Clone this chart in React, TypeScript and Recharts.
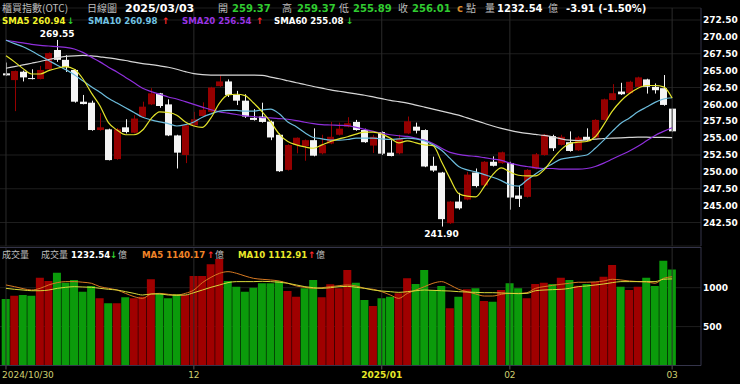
import React from "react"
import {
    ComposedChart,
    Bar,
    Line,
    XAxis,
    YAxis,
    CartesianGrid,
    ReferenceLine,
    ReferenceDot,
    Cell
} from "recharts"

// daily OHLC, 2024/10/30 .. 2025/03/03
const opens = [
    264.6, 263.6, 264.84, 263.9, 263.76, 265.2, 268.06, 266.6, 265.1, 260.4,
    260.25, 256.2, 256.3, 251.9, 256.6, 255.8, 258.17, 260.0, 261.64, 260.0,
    255.4, 252.5, 256.9, 258.28, 258.9, 262.7, 263.4, 261.4, 260.55, 258.0,
    258.2, 257.45, 255.5, 250.3, 253.99, 253.8, 254.7, 252.75, 254.2, 255.5,
    256.7, 257.4, 256.2, 253.9, 255.9, 252.85, 252.75, 255.7, 256.7, 256.2,
    250.9, 249.9, 242.4, 245.6, 245.9, 249.9, 248.0, 251.5, 251.3, 251.3,
    246.5, 246.3, 250.5, 252.5, 255.3, 254.0, 254.4, 253.2, 255.2, 255.1,
    257.7, 260.65, 261.9, 261.65, 262.6, 263.7, 262.6, 262.4, 259.37
]
const highs = [
    266.2, 265.0, 265.0, 265.2, 265.7, 267.7, 269.55, 267.3, 265.2, 261.4,
    260.55, 258.7, 256.4, 256.5, 257.8, 258.4, 260.4, 262.4, 261.7, 260.75,
    255.5, 257.0, 258.9, 260.3, 262.6, 264.25, 263.7, 262.0, 261.5, 259.3,
    260.25, 257.6, 255.7, 254.1, 255.1, 254.8, 256.45, 255.5, 257.4, 257.3,
    258.1, 257.7, 256.4, 255.5, 256.0, 254.7, 255.5, 258.2, 257.3, 256.3,
    252.25, 250.0, 245.7, 246.9, 250.0, 250.5, 251.6, 252.3, 253.0, 251.5,
    247.9, 250.4, 252.8, 255.6, 255.5, 255.5, 256.0, 255.3, 256.45, 257.8,
    260.85, 263.0, 263.2, 263.5, 264.1, 263.8, 263.1, 264.35, 259.37
]
const lows = [
    264.2, 259.0, 263.4, 263.7, 263.7, 265.1, 266.3, 264.8, 260.25, 260.0,
    256.1, 256.1, 251.7, 251.8, 255.7, 255.7, 258.0, 259.9, 259.5, 255.3,
    250.5, 251.3, 256.8, 258.2, 258.8, 262.6, 261.1, 259.9, 258.0, 257.6,
    257.3, 254.7, 250.0, 250.2, 252.75, 251.65, 252.3, 252.6, 254.1, 255.4,
    256.6, 256.1, 254.3, 252.8, 252.5, 252.3, 252.6, 255.6, 255.7, 250.7,
    250.0, 241.9, 242.3, 244.4, 245.8, 247.7, 247.8, 250.8, 251.2, 244.4,
    244.8, 246.2, 250.4, 252.4, 253.1, 253.9, 253.0, 253.1, 254.6, 255.0,
    257.6, 260.6, 261.4, 261.6, 262.5, 261.6, 261.6, 259.8, 255.89
]
const closes = [
    264.3, 264.94, 264.0, 263.8, 265.1, 267.6, 266.6, 265.5, 260.4, 260.05,
    256.2, 256.6, 251.75, 256.3, 255.9, 257.9, 259.66, 261.64, 259.76, 255.4,
    252.85, 256.9, 257.8, 259.2, 262.5, 263.4, 261.4, 260.55, 258.2, 257.7,
    257.4, 255.1, 250.1, 253.98, 255.06, 254.7, 252.4, 254.0, 255.2, 256.4,
    257.2, 256.2, 254.4, 255.2, 252.7, 252.35, 254.9, 257.5, 256.1, 250.8,
    250.2, 243.0, 245.6, 244.6, 249.6, 247.9, 251.5, 250.9, 252.9, 246.2,
    246.0, 250.3, 252.6, 255.5, 253.5, 255.2, 253.1, 255.1, 254.7, 257.7,
    260.75, 261.65, 261.5, 263.35, 264.0, 262.6, 262.1, 259.92, 256.01
]

// moving averages
const sma5 = [
    267.2, 266.3, 265.3, 264.5, 264.5, 265.0, 265.35, 265.6, 265.2, 263.8,
    261.7, 259.8, 257.3, 256.2, 255.5, 255.5, 256.2, 257.9, 258.9, 258.8,
    258.4, 257.4, 256.8, 256.6, 258.0, 260.2, 261.4, 261.5, 261.3, 260.2,
    258.9, 257.4, 255.6, 254.5, 254.0, 253.7, 253.5, 254.0, 254.5, 254.9,
    255.2, 255.6, 255.9, 255.9, 255.6, 255.0, 254.3, 254.6, 254.3, 254.0,
    253.9, 251.5, 249.0, 246.8, 246.4, 246.3, 247.8, 249.6, 250.6, 250.0,
    249.5, 249.4, 249.4, 250.3, 251.9, 253.3, 254.2, 254.4, 254.5, 255.2,
    257.0, 259.0, 260.5, 261.6, 262.4, 262.8, 262.8, 262.6, 260.94
]
const sma10 = [
    269.5, 269.0, 268.55, 267.9, 267.2, 266.5, 265.8, 265.15, 264.4, 263.5,
    262.6, 261.8, 260.9, 260.2, 259.5, 258.8, 258.1, 257.7, 257.4, 257.15,
    256.8, 257.0, 257.4, 258.1, 258.6, 259.0, 259.1, 259.1, 259.0, 259.0,
    259.2, 259.3, 258.6, 257.4, 256.7, 255.8, 255.1, 254.9, 254.7, 254.7,
    254.8, 255.0, 255.0, 255.0, 254.9, 254.8, 254.9, 255.0, 254.9, 254.6,
    254.0, 253.2, 252.0, 250.8, 250.3, 250.0, 249.6, 249.2, 248.7, 248.1,
    247.9, 248.8, 249.7, 250.5, 251.2, 251.9, 252.1, 252.3, 252.5, 253.5,
    254.7, 256.0, 257.2, 258.0, 258.9, 259.6, 260.3, 260.8, 260.98
]
const sma20 = [
    269.5, 269.3, 269.1, 268.9, 268.75, 268.65, 268.55, 268.45, 268.2, 267.7,
    267.0, 266.3, 265.5, 264.8, 264.0, 263.2, 262.4, 261.9, 261.5, 261.1,
    260.8, 260.4, 260.0, 259.6, 259.2, 258.9, 258.7, 258.5, 258.3, 258.2,
    258.05, 258.0, 257.9, 257.8, 257.6, 257.35, 257.15, 257.0, 256.95, 256.9,
    256.85, 256.6, 256.3, 256.0, 255.7, 255.5, 255.35, 255.25, 255.0, 254.7,
    254.2, 253.5, 252.9, 252.6, 252.4, 252.3, 252.1, 251.9, 251.7, 251.3,
    251.0, 250.8, 250.6, 250.5, 250.5, 250.4, 250.4, 250.4, 250.5, 250.8,
    251.3, 251.9, 252.5, 253.1, 253.8, 254.6, 255.4, 256.0, 256.54
]
const sma60 = [
    265.35, 265.6, 265.85, 266.1, 266.35, 266.65, 266.9, 267.1, 267.2, 267.25,
    267.2, 267.05, 266.9, 266.7, 266.5, 266.25, 266.05, 265.9, 265.7, 265.5,
    265.2, 264.85, 264.55, 264.4, 264.35, 264.35, 264.35, 264.35, 264.35, 264.35,
    264.3, 264.05, 263.8, 263.5, 263.2, 262.95, 262.65, 262.4, 262.15, 261.95,
    261.75, 261.55, 261.35, 261.1, 260.85, 260.6, 260.4, 260.2, 259.9, 259.6,
    259.3, 259.0, 258.7, 258.4, 258.0, 257.6, 257.2, 256.8, 256.45, 256.15,
    255.9, 255.7, 255.55, 255.4, 255.2, 254.9, 254.7, 254.65, 254.75, 254.85,
    254.95, 255.0, 255.05, 255.1, 255.15, 255.15, 255.1, 255.1, 255.08
]

// volume (億)
const volumes = [
    855, 897, 906, 897, 1129, 1086, 1193, 1064, 1099, 949,
    1022, 864, 799, 799, 877, 864, 884, 1108, 928, 864,
    919, 906, 1150, 1150, 1301, 1369, 1086, 1013, 949, 1000,
    1057, 1057, 1086, 958, 884, 992, 1099, 877, 1044, 992,
    1228, 1064, 842, 765, 864, 884, 928, 1121, 1047, 1228,
    970, 1022, 735, 884, 979, 992, 829, 820, 970, 1057,
    992, 864, 1047, 1064, 1047, 1129, 1099, 1026, 1047, 1073,
    1141, 1292, 1013, 970, 1013, 1129, 1022, 1347, 1233
]
const volMa5 = [
    1035, 1013, 988, 970, 992, 1035, 1065, 1078, 1078, 1070,
    1057, 1013, 992, 970, 927, 885, 863, 919, 927, 915,
    906, 927, 970, 1065, 1133, 1185, 1206, 1185, 1150, 1120,
    1108, 1099, 1086, 1057, 1022, 1005, 992, 1000, 1013, 1026,
    1035, 1022, 992, 979, 949, 906, 863, 927, 970, 1013,
    1057, 1078, 1035, 979, 949, 919, 893, 893, 915, 927,
    927, 936, 992, 1013, 1030, 1044, 1057, 1070, 1070, 1074,
    1086, 1108, 1099, 1086, 1078, 1074, 1057, 1120, 1140
]
const volMa10 = [
    992, 979, 970, 961, 961, 970, 992, 1005, 1013, 1009,
    1005, 992, 979, 970, 949, 927, 906, 919, 919, 906,
    902, 906, 936, 970, 1005, 1035, 1065, 1078, 1078, 1078,
    1082, 1078, 1070, 1057, 1035, 1013, 1000, 992, 1000, 1013,
    1017, 1005, 992, 970, 957, 949, 940, 949, 961, 970,
    966, 961, 957, 949, 944, 940, 936, 936, 932, 927,
    923, 927, 961, 970, 975, 979, 992, 1013, 1022, 1035,
    1048, 1065, 1078, 1078, 1078, 1078, 1078, 1108, 1113
]

const priceTicks = [242.5, 245, 247.5, 250, 252.5, 255, 257.5, 260, 262.5, 265, 267.5, 270, 272.5]
const volTicks = [500, 1000]
const dateTickIdx = [0, 22, 44, 59, 78]
const dateTickLabels = ["2024/10/30", "12", "2025/01", "02", "03"]

const F = '"DejaVu Sans", "Noto Sans CJK TC", sans-serif'
const CJK = '"Noto Sans CJK TC", sans-serif'
const RED = "#960000"
const WHITE = "#f4f4f4"
const VRED = "#a00000"
const VGREEN = "#0b9b0b"
const GRID = "#1e1e1e"
const VGRID = "#2b2b2b"
const BORDER = "#34344a"
const GREEN_T = "#30cc30"
const RED_T = "#ff2a2a"
const GRAY_T = "#bdbdbd"
const LEG = 8.6

const data = closes.map((c, i) => ({
    i,
    o: opens[i],
    h: highs[i],
    l: lows[i],
    c,
    range: [lows[i], highs[i]],
    sma5: sma5[i],
    sma10: sma10[i],
    sma20: sma20[i],
    sma60: sma60[i],
    v: volumes[i],
    vma5: volMa5[i],
    vma10: volMa10[i],
    up: i === 0 ? c >= opens[i] : c >= closes[i - 1]
}))

function Candle(props: any) {
    const { x, y, width, height, payload } = props
    const { o, h, l, c } = payload
    const top0 = Math.min(y, y + height)
    const H = Math.abs(height)
    const k = H / (h - l)
    const color = c > o ? RED : WHITE
    const bTop = top0 + (h - Math.max(o, c)) * k
    const bBot = top0 + (h - Math.min(o, c)) * k
    const cx = Math.round(x + width / 2) + 0.5
    return (
        <g>
            <line x1={cx} x2={cx} y1={top0} y2={top0 + H} stroke={color} strokeWidth={1} />
            <rect x={Math.round(x)} y={bTop} width={Math.round(width)} height={Math.max(1, bBot - bTop)} fill={color} />
        </g>
    )
}

function DateTick(props: any) {
    const { x, y, payload } = props
    const idx = dateTickIdx.indexOf(payload.value)
    const label = dateTickLabels[idx]
    const first = idx === 0
    const year = label === "2025/01"
    return (
        <text
            x={first ? x - 4 : x}
            y={y}
            dy="0.72em"
            textAnchor={first ? "start" : "middle"}
            fill={year ? "#e8e828" : "#cfcf70"}
            fontSize={9}
            fontWeight={year ? "bold" : "normal"}
            fontFamily={F}
        >
            {label}
        </text>
    )
}

function T({ x, y, fill, size = LEG, bold = false, cjk = false, children }: any) {
    return (
        <text x={x} y={y} fill={fill} fontSize={size} fontWeight={bold ? "bold" : "normal"} fontFamily={cjk ? CJK : F}>
            {children}
        </text>
    )
}

function Overlay() {
    return (
        <svg width={740} height={384} style={{ position: "absolute", left: 0, top: 0, pointerEvents: "none" }}>
            <line x1={0} x2={701} y1={247.5} y2={247.5} stroke={BORDER} />
            {/* header */}
            <T x={2} y={12} fill={GRAY_T} size={10} cjk>櫃買指數(OTC)</T>
            <T x={87} y={12} fill={GRAY_T} size={10} cjk>日線圖</T>
            <T x={125} y={12} fill="#fff" size={11} bold>2025/03/03</T>
            <T x={218} y={12} fill={GRAY_T} size={10} cjk>開</T>
            <T x={232} y={12} fill={GREEN_T} size={10} bold>259.37</T>
            <T x={282} y={12} fill={GRAY_T} size={10} cjk>高</T>
            <T x={297} y={12} fill={GREEN_T} size={10} bold>259.37</T>
            <T x={339} y={12} fill={GRAY_T} size={10} cjk>低</T>
            <T x={353} y={12} fill={GREEN_T} size={10} bold>255.89</T>
            <T x={398} y={12} fill={GRAY_T} size={10} cjk>收</T>
            <T x={412} y={12} fill={GREEN_T} size={10} bold>256.01</T>
            <T x={457} y={12} fill="#d88a2a" size={10} bold>c</T>
            <T x={466} y={12} fill={GRAY_T} size={10} cjk>點</T>
            <T x={485} y={12} fill={GRAY_T} size={10} cjk>量</T>
            <T x={497} y={12} fill="#fff" size={10} bold>1232.54</T>
            <T x={548} y={12} fill={GRAY_T} size={10} cjk>億</T>
            <T x={566} y={12} fill="#fff" size={10} bold>-3.91 (-1.50%)</T>
            {/* moving average legend */}
            <T x={2} y={24} fill="#f2f22a" bold>SMA5 260.94</T>
            <T x={67} y={24} fill={GREEN_T} size={9} bold>↓</T>
            <T x={88} y={24} fill="#72c4e4" bold>SMA10 260.98</T>
            <T x={162} y={24} fill={RED_T} size={9} bold>↑</T>
            <T x={182} y={24} fill="#9a34e4" bold>SMA20 256.54</T>
            <T x={256} y={24} fill={RED_T} size={9} bold>↑</T>
            <T x={274} y={24} fill="#fff" bold>SMA60 255.08</T>
            <T x={346} y={24} fill={GREEN_T} size={9} bold>↓</T>
            {/* volume legend */}
            <T x={2} y={258} fill={GRAY_T} size={9} cjk>成交量</T>
            <T x={41} y={258} fill={GRAY_T} size={9} cjk>成交量</T>
            <T x={71} y={258} fill="#fff" bold>1232.54</T>
            <T x={110} y={258} fill={GREEN_T} size={9} bold>↓</T>
            <T x={118} y={258} fill={GRAY_T} size={9} cjk>億</T>
            <T x={142} y={258} fill="#f08428" bold>MA5 1140.17</T>
            <T x={207} y={258} fill={RED_T} size={9} bold>↑</T>
            <T x={215} y={258} fill={GRAY_T} size={9} cjk>億</T>
            <T x={238} y={258} fill="#eaea2a" bold>MA10 1112.91</T>
            <T x={308} y={258} fill={RED_T} size={9} bold>↑</T>
            <T x={316} y={258} fill={GRAY_T} size={9} cjk>億</T>
        </svg>
    )
}

const xPad = { left: 1.7, right: 24.6 }

export default function App() {
    return (
        <div style={{ position: "absolute", left: 0, top: 0, width: 740, height: 384, background: "#000", overflow: "hidden" }}>
            <div style={{ position: "absolute", left: 0, top: 0 }}>
                <ComposedChart width={740} height={247} data={data} margin={{ top: 8, right: 0, bottom: 1, left: 0 }}>
                    <CartesianGrid vertical={false} stroke={GRID} />
                    <XAxis dataKey="i" hide padding={xPad} />
                    <YAxis
                        orientation="right"
                        width={39}
                        domain={[239.02, 274.28]}
                        allowDataOverflow
                        ticks={priceTicks}
                        tickFormatter={(v: number) => v.toFixed(2)}
                        axisLine={{ stroke: BORDER }}
                        tickLine={false}
                        tickSize={0}
                        tickMargin={2}
                        tick={{ fill: "#fff", fontSize: 9, fontWeight: "bold", fontFamily: F }}
                    />
                    {dateTickIdx.map((d) => (
                        <ReferenceLine key={d} x={d} stroke={VGRID} />
                    ))}
                    <Bar dataKey="range" barSize={7} isAnimationActive={false} shape={(p: any) => <Candle {...p} />} />
                    <Line type="monotone" dataKey="sma60" stroke="#d6d6d6" strokeWidth={1.2} dot={false} isAnimationActive={false} />
                    <Line type="monotone" dataKey="sma20" stroke="#8f2fdc" strokeWidth={1.2} dot={false} isAnimationActive={false} />
                    <Line type="monotone" dataKey="sma10" stroke="#6cbcdc" strokeWidth={1.2} dot={false} isAnimationActive={false} />
                    <Line type="monotone" dataKey="sma5" stroke="#e4e42a" strokeWidth={1.2} dot={false} isAnimationActive={false} />
                    <ReferenceDot
                        x={6}
                        y={269.55}
                        r={0}
                        label={{
                            content: (p: any) => (
                                <text x={p.viewBox.x} y={p.viewBox.y - 3} textAnchor="middle" fill="#fff" fontSize={9} fontWeight="bold" fontFamily={F}>
                                    269.55
                                </text>
                            )
                        }}
                    />
                    <ReferenceDot
                        x={51}
                        y={241.9}
                        r={0}
                        label={{
                            content: (p: any) => (
                                <text x={p.viewBox.x} y={p.viewBox.y + 10} textAnchor="middle" fill="#fff" fontSize={9} fontWeight="bold" fontFamily={F}>
                                    241.90
                                </text>
                            )
                        }}
                    />
                </ComposedChart>
            </div>
            <div style={{ position: "absolute", left: 0, top: 247 }}>
                <ComposedChart width={740} height={137} data={data} margin={{ top: 0, right: 0, bottom: 0, left: 0 }}>
                    <CartesianGrid vertical={false} stroke={GRID} />
                    <XAxis
                        dataKey="i"
                        padding={xPad}
                        height={18.5}
                        ticks={dateTickIdx}
                        interval={0}
                        axisLine={{ stroke: BORDER }}
                        tickLine={{ stroke: "#555" }}
                        tickSize={4}
                        tickMargin={2}
                        tick={(p: any) => <DateTick {...p} />}
                    />
                    <YAxis
                        orientation="right"
                        width={39}
                        domain={[0, 1523]}
                        allowDataOverflow
                        ticks={volTicks}
                        axisLine={{ stroke: BORDER }}
                        tickLine={false}
                        tickSize={0}
                        tickMargin={2}
                        tick={{ fill: "#fff", fontSize: 9, fontWeight: "bold", fontFamily: F }}
                    />
                    {dateTickIdx.map((d) => (
                        <ReferenceLine key={d} x={d} stroke={VGRID} />
                    ))}
                    <Bar dataKey="v" barSize={8} isAnimationActive={false}>
                        {data.map((d) => (
                            <Cell key={d.i} fill={d.up ? VRED : VGREEN} />
                        ))}
                    </Bar>
                    <Line type="monotone" dataKey="vma5" stroke="#d87a22" strokeWidth={1} dot={false} isAnimationActive={false} />
                    <Line type="monotone" dataKey="vma10" stroke="#d8d83a" strokeWidth={1} dot={false} isAnimationActive={false} />
                </ComposedChart>
            </div>
            <Overlay />
        </div>
    )
}
